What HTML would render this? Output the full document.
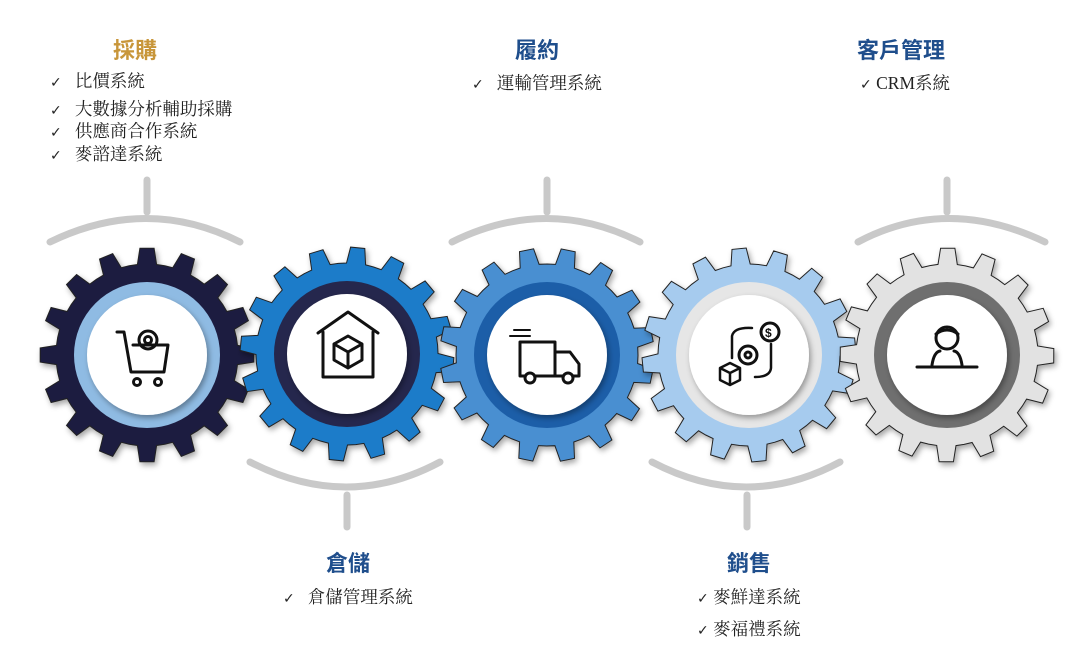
<!DOCTYPE html>
<html><head><meta charset="utf-8"><style>
html,body{margin:0;padding:0;background:#fff;width:1080px;height:655px;overflow:hidden;font-family:"Liberation Serif","Noto Serif CJK SC","Noto Sans CJK TC",serif;}
.t{position:absolute;font-family:"Liberation Sans","Noto Sans CJK TC",sans-serif;font-weight:bold;font-size:22px;color:#1f4e8c;white-space:nowrap}
.i{position:absolute;font-size:17.5px;color:#222;white-space:nowrap;line-height:20px}
.c{font-family:"DejaVu Sans",sans-serif;font-size:14px}
svg{position:absolute;left:0;top:0}
</style></head><body>
<svg id="s" width="1080" height="655" viewBox="0 0 1080 655">
<defs><filter id="sh" x="-20%" y="-20%" width="140%" height="140%"><feDropShadow dx="2" dy="3" stdDeviation="3" flood-color="#000" flood-opacity="0.35"/></filter></defs>
<g fill="none" stroke="#c9c9c9" stroke-width="7" stroke-linecap="round">
<path d="M50 242 Q147 195 240 242"/><line x1="147" y1="180" x2="147" y2="212"/>
<path d="M452 242 Q547 195 640 242"/><line x1="547" y1="180" x2="547" y2="212"/>
<path d="M858 242 Q947 195 1045 242"/><line x1="947" y1="180" x2="947" y2="212"/>
<path d="M250 462 Q347 512 440 462"/><line x1="347" y1="495" x2="347" y2="527"/>
<path d="M652 462 Q747 512 840 462"/><line x1="747" y1="495" x2="747" y2="527"/>
</g>
<g id="gears"></g>
<g fill="none" stroke="#111" stroke-width="3" stroke-linejoin="round" stroke-linecap="round">
<path d="M117 332 L124 332 L131 372 L164 372 L168 345 L133 345"/>
<circle cx="137" cy="382" r="3.5"/><circle cx="158" cy="382" r="3.5"/>
<circle cx="148" cy="340" r="9"/><circle cx="148" cy="340" r="3.5"/>
<path d="M318 333 L348 312 L378 333"/><path d="M323 332 L323 377 L373 377 L373 332"/>
<path d="M348 336 L362 344 L362 360 L348 368 L334 360 L334 344 Z M334 344 L348 352 L362 344 M348 352 L348 368"/>
<path d="M520 342 L555 342 L555 376 L520 376 Z M555 352 L570 352 L579 364 L579 376 L555 376"/>
<circle cx="530" cy="378" r="5" fill="#fff"/><circle cx="568" cy="378" r="5" fill="#fff"/>
<path d="M510 336 L530 336 M514 330 L530 330" stroke-width="2"/>
<circle cx="770" cy="332" r="9"/><circle cx="748" cy="355" r="9"/><circle cx="748" cy="355" r="3"/>
<path d="M732 358 L732 336 Q734 327 752 328 M771 344 L771 368 Q770 377 755 377" stroke-width="2.5"/>
<path d="M720 368 L730 363 L740 368 L740 380 L730 385 L720 380 Z M720 368 L730 373 L740 368 M730 373 L730 385" stroke-width="2.5"/>
<path d="M917 367 L977 367"/><circle cx="947" cy="338" r="11"/>
<path d="M932 365 Q934 352 940 351 M962 365 Q960 352 954 351"/><path d="M936 334 Q947 326 958 334"/>
</g>
<text x="765" y="337" font-family="Liberation Sans" font-size="12" font-weight="bold" fill="#111">$</text>
</svg>
<div class="t" style="left:113px;top:33px;color:#c8963a">採購</div>
<div class="i" style="left:50px;top:71px"><span class="c">✓</span>&nbsp;&nbsp; 比價系統</div>
<div class="i" style="left:50px;top:99px"><span class="c">✓</span>&nbsp;&nbsp; 大數據分析輔助採購</div>
<div class="i" style="left:50px;top:121px"><span class="c">✓</span>&nbsp;&nbsp; 供應商合作系統</div>
<div class="i" style="left:50px;top:144px"><span class="c">✓</span>&nbsp;&nbsp; 麥諮達系統</div>
<div class="t" style="left:515px;top:33px">履約</div>
<div class="i" style="left:472px;top:73px"><span class="c">✓</span>&nbsp;&nbsp; 運輸管理系統</div>
<div class="t" style="left:857px;top:33px">客戶管理</div>
<div class="i" style="left:860px;top:73px"><span class="c">✓</span> CRM系統</div>
<div class="t" style="left:326px;top:546px">倉儲</div>
<div class="i" style="left:283px;top:587px"><span class="c">✓</span>&nbsp;&nbsp; 倉儲管理系統</div>
<div class="t" style="left:727px;top:546px">銷售</div>
<div class="i" style="left:697px;top:587px"><span class="c">✓</span> 麥鮮達系統</div>
<div class="i" style="left:697px;top:619px"><span class="c">✓</span> 麥福禮系統</div>
<script>
var G=[[147,355,"#1b1d40","#8fbbe3"],[347,354,"#1f7bc9","#25274d"],[547,355,"#4a8fd1","#1c5ea8"],[749,355,"#a6cbee","#e6e6e6"],[947,355,"#e2e2e2","#6f6f6f"]];
var out="";
G.forEach(function(g,k){
 var cx=g[0],cy=g[1],n=16,R=107,r=91,p=[];
 var off=k*0.1;
 for(var t=0;t<n;t++){
  var a=off+t*2*Math.PI/n,s=2*Math.PI/n;
  var pts=[[r,a-s*0.5],[r,a-s*0.27],[R,a-s*0.17],[R,a+s*0.17],[r,a+s*0.27]];
  pts.forEach(function(q){p.push((cx+q[0]*Math.cos(q[1])).toFixed(1)+","+(cy+q[0]*Math.sin(q[1])).toFixed(1));});
 }
 out+='<polygon filter="url(#sh)" points="'+p.join(" ")+'" fill="'+g[2]+'" stroke="#222" stroke-width="1"/>';
 out+='<circle cx="'+cx+'" cy="'+cy+'" r="73" fill="'+g[3]+'"/>';
 out+='<circle filter="url(#sh)" cx="'+cx+'" cy="'+cy+'" r="60" fill="#fff"/>';
});
document.getElementById("gears").innerHTML=out;
</script>
</body></html>
